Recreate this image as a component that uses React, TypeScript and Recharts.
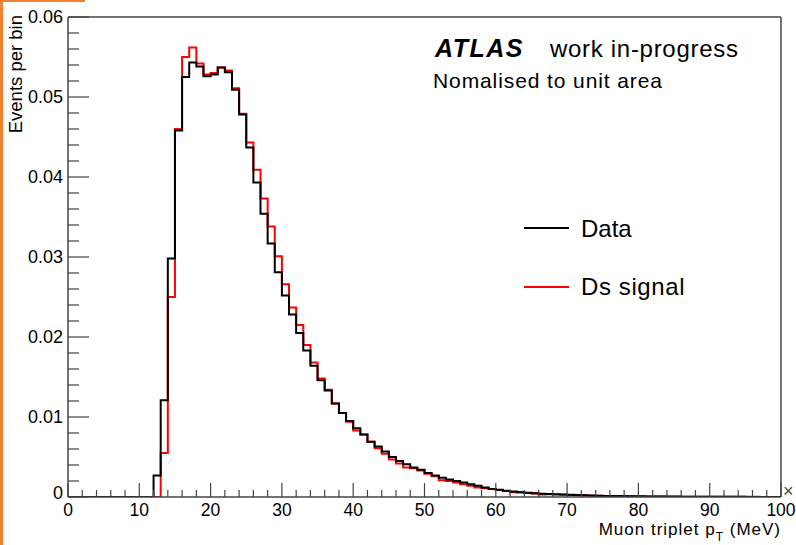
import React from "react";
import { LineChart, Line, XAxis, YAxis, ReferenceLine } from "recharts";

// Muon triplet pT histogram, 1 MeV bins from 0 to 100, normalised to unit area
const binEdges = Array.from({ length: 100 }, (_, i) => i);

const dataValues = [
  0, 0, 0, 0, 0, 0, 0, 0, 0, 0,
  0, 0, 0.0027, 0.0121, 0.0298, 0.0458, 0.0525, 0.0543, 0.0538, 0.0526,
  0.0528, 0.0537, 0.0531, 0.0509, 0.0478, 0.0437, 0.0393, 0.0354, 0.0317, 0.0281,
  0.0252, 0.0228, 0.0205, 0.0183, 0.0164, 0.0146, 0.0133, 0.0117, 0.0105, 0.0095,
  0.0086, 0.0078, 0.0069, 0.0063, 0.0057, 0.005, 0.0045, 0.0041, 0.0037, 0.0034,
  0.003, 0.0027, 0.0024, 0.0022, 0.002, 0.0018, 0.0016, 0.0014, 0.0012, 0.001,
  0.0009, 0.00078, 0.00068, 0.0006, 0.00052, 0.00046, 0.0004, 0.00037, 0.00033, 0.0003,
  0.00027, 0.00024, 0.00021, 0.00019, 0.00017, 0.00014, 0.00012, 0.00011, 0.0001, 0.00009,
  0.00008, 0.00007, 0.00006, 0.00006, 0.00005, 0.00005, 0.00004, 0.00004, 0.00003, 0.00003,
  0.00003, 0.00002, 0.00002, 0.00002, 0.00002, 0.00001, 0.00001, 0.00001, 0.00001, 0.00001,
];

const signalValues = [
  0, 0, 0, 0, 0, 0, 0, 0, 0, 0,
  0, 0, 0, 0.0055, 0.025, 0.046, 0.055, 0.0562, 0.0542, 0.0528,
  0.053, 0.0537, 0.0533, 0.0511, 0.0479, 0.0443, 0.0409, 0.0373, 0.0338, 0.0301,
  0.0266, 0.0237, 0.0215, 0.019, 0.0168, 0.0148, 0.0134, 0.0117, 0.0105, 0.0094,
  0.0083, 0.0078, 0.0069, 0.0061, 0.0054, 0.0047, 0.0042, 0.0037, 0.0036, 0.0033,
  0.0029, 0.0026, 0.0021, 0.002, 0.0018, 0.0016, 0.0014, 0.0012, 0.0011, 0.001,
  0.00088, 0.00076, 0.0006, 0.00058, 0.0005, 0.00045, 0.00032, 0.00034, 0.0003, 0.00028,
  0.00024, 0.00022, 0.0002, 0.00017, 0.00015, 0.00013, 0.00011, 0.0001, 0.00009, 0.00009,
  0.00007, 0.00006, 0.00005, 0.00005, 0.00004, 0.00004, 0.00003, 0.00003, 0.00003, 0.00003,
  0.00002, 0.00002, 0.00002, 0.00004, 0.00004, 0.00003, 0.00003, 0.00001, 0.00001, 0.00001,
];

const xMajorTicks = [0, 10, 20, 30, 40, 50, 60, 70, 80, 90, 100];
const yMajorTicks = [0, 0.01, 0.02, 0.03, 0.04, 0.05, 0.06];

const xTicks = Array.from({ length: 51 }, (_, i) => i * 2);
const yTicks = Array.from({ length: 31 }, (_, i) => Math.round(i * 2) / 1000);

// step histogram needs a closing point at the upper edge
const rows = binEdges.map((x, i) => ({ x, data: dataValues[i], sig: signalValues[i] }));
rows.push({ x: 100, data: dataValues[99], sig: signalValues[99] });

const FONT = "'Liberation Sans', Arial, Helvetica, sans-serif";
const AXIS = "#444";

const XTick = (props: any) => {
  const { x, y, payload } = props;
  const v = payload.value;
  const major = xMajorTicks.includes(v);
  return (
    <g>
      <line x1={x} x2={x} y1={y} y2={y - (major ? 14 : 7)} stroke={AXIS} strokeWidth={1.2} />
      {major && (
        <text x={x} y={y + 19} textAnchor="middle" fontSize={17.5} fontFamily={FONT} fill="#000">
          {v}
        </text>
      )}
    </g>
  );
};

const YTick = (props: any) => {
  const { x, y, payload } = props;
  const v = payload.value;
  const major = yMajorTicks.some((m) => Math.abs(m - v) < 1e-9);
  return (
    <g>
      <line x1={x} x2={x + (major ? 21 : 11)} y1={y} y2={y} stroke={AXIS} strokeWidth={1.2} />
      {major && (
        <text
          x={x - 5}
          y={v === 0 ? y + 2 : y + 6}
          textAnchor="end"
          fontSize={18}
          fontFamily={FONT}
          fill="#000"
        >
          {v === 0 ? "0" : v.toFixed(2)}
        </text>
      )}
    </g>
  );
};

export default function App() {
  return (
    <div style={{ position: "absolute", left: 0, top: 0, width: 796, height: 545, background: "#fff" }}>
      <LineChart
        width={796}
        height={545}
        data={rows}
        margin={{ top: 17, right: 15, left: 8, bottom: 18 }}
      >
        <XAxis
          dataKey="x"
          type="number"
          domain={[0, 100]}
          ticks={xTicks}
          interval={0}
          tick={<XTick />}
          tickLine={false}
          tickSize={0}
          tickMargin={0}
          height={30}
          axisLine={{ stroke: AXIS, strokeWidth: 1.5 }}
        />
        <YAxis
          type="number"
          domain={[0, 0.06]}
          ticks={yTicks}
          interval={0}
          tick={<YTick />}
          tickLine={false}
          tickSize={0}
          tickMargin={0}
          width={60}
          allowDataOverflow
          axisLine={{ stroke: AXIS, strokeWidth: 1.5 }}
        />
        <ReferenceLine y={0.06} stroke={AXIS} strokeWidth={1.5} />
        <ReferenceLine x={100} stroke={AXIS} strokeWidth={1.5} />
        <Line
          type="stepAfter"
          dataKey="sig"
          stroke="#ff0000"
          strokeWidth={2}
          dot={false}
          isAnimationActive={false}
        />
        <Line
          type="stepAfter"
          dataKey="data"
          stroke="#000000"
          strokeWidth={2}
          dot={false}
          isAnimationActive={false}
        />
      </LineChart>

      <svg
        width={796}
        height={545}
        style={{ position: "absolute", left: 0, top: 0, pointerEvents: "none" }}
        fontFamily={FONT}
      >
        <text x={435} y={57} fontSize={25} fontWeight="bold" fontStyle="italic" letterSpacing={1.5}>
          ATLAS
        </text>
        <text x={550} y={57} fontSize={24} letterSpacing={0.7}>
          work in-progress
        </text>
        <text x={433} y={88} fontSize={21} letterSpacing={0.9}>
          Nomalised to unit area
        </text>

        <line x1={524} x2={569} y1={228} y2={228} stroke="#000" strokeWidth={2} />
        <text x={581} y={237} fontSize={24}>
          Data
        </text>
        <line x1={524} x2={569} y1={287} y2={287} stroke="#ff0000" strokeWidth={2} />
        <text x={581} y={295} fontSize={24} letterSpacing={0.6}>
          Ds signal
        </text>

        <text x={781} y={535} fontSize={17} letterSpacing={1} textAnchor="end">
          Muon triplet p
          <tspan fontSize={12} dy={6}>T</tspan>
          <tspan dy={-6}> (MeV)</tspan>
        </text>
        <text transform="translate(22, 15) rotate(-90)" fontSize={18.5} textAnchor="end">
          Events per bin
        </text>
        <text x={783} y={497} fontSize={18} fill="#444">
          ×
        </text>

        <rect x={0} y={0} width={3} height={545} fill="#ef8130" />
        <rect x={0} y={0} width={85} height={2} fill="#ef8130" />
      </svg>
    </div>
  );
}
